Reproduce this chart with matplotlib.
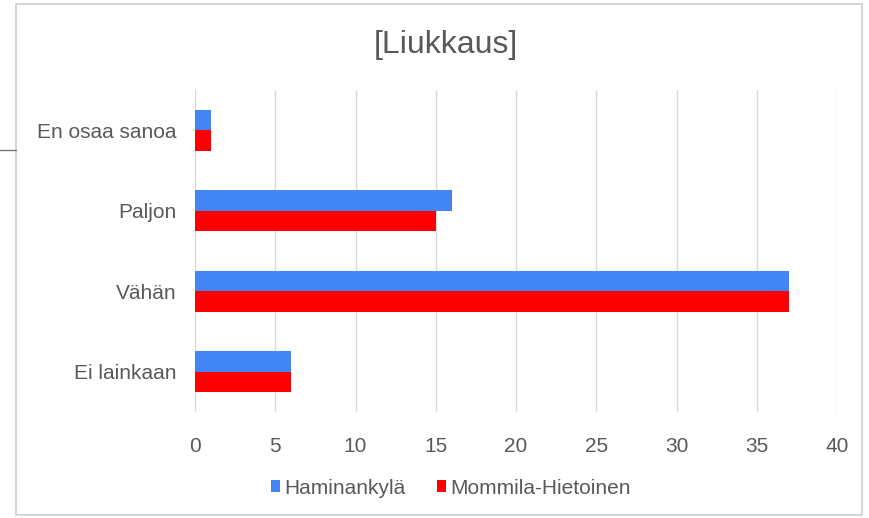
import matplotlib.pyplot as plt
from matplotlib.patches import Rectangle
from matplotlib.lines import Line2D
import numpy as np

plt.rcParams['font.family'] = ['Liberation Sans', 'DejaVu Sans']

# Dữ liệu
luokat = ['Ei lainkaan', 'Vähän', 'Paljon', 'En osaa sanoa']
haminankyla = [6, 37, 16, 1]
mommila = [6, 37, 15, 1]
sarjat = ['Haminankylä', 'Mommila-Hietoinen']

fig = plt.figure(figsize=(8.69, 5.18), dpi=100)

# khung biểu đồ
fig.patches.append(Rectangle((16/869, 3/518), 846/869, 511/518, transform=fig.transFigure,
                             fill=False, edgecolor='#d0d0d0', linewidth=1.2))
fig.lines.append(Line2D([0, 16/869], [1-150/518, 1-150/518], transform=fig.transFigure,
                        color='#777777', linewidth=1))

ax = fig.add_axes([195/869, 1-412/518, 642/869, 322/518])
y = np.arange(len(luokat))
h = 0.255
ax.barh(y + h/2, haminankyla, height=h, color='#4285F4', label=sarjat[0], zorder=3)
ax.barh(y - h/2, mommila, height=h, color='#FF0000', label=sarjat[1], zorder=3)

ax.set_xlim(0, 40)
ax.set_ylim(-0.5, 3.5)
ax.set_xticks(range(0, 41, 5))
ax.set_yticks(y)
ax.set_yticklabels(luokat)
ax.tick_params(length=0, labelsize=15, colors='#595959', pad=13)
ax.tick_params(axis='x', pad=18)
ax.grid(axis='x', color='#d9d9d9', linewidth=1, zorder=0)
for s in ax.spines.values():
    s.set_visible(False)

fig.text(446/869, 1-45/518, '[Liukkaus]', ha='center', va='center', fontsize=23, color='#595959')

ax.legend(loc='center', bbox_to_anchor=(451/869, 1-488/518), bbox_transform=fig.transFigure,
          ncol=2, frameon=False, fontsize=15, handlelength=0.45, handleheight=0.45,
          handletextpad=0.2, columnspacing=1.5, labelcolor='#595959')

fig.savefig('out.png', dpi=100)
